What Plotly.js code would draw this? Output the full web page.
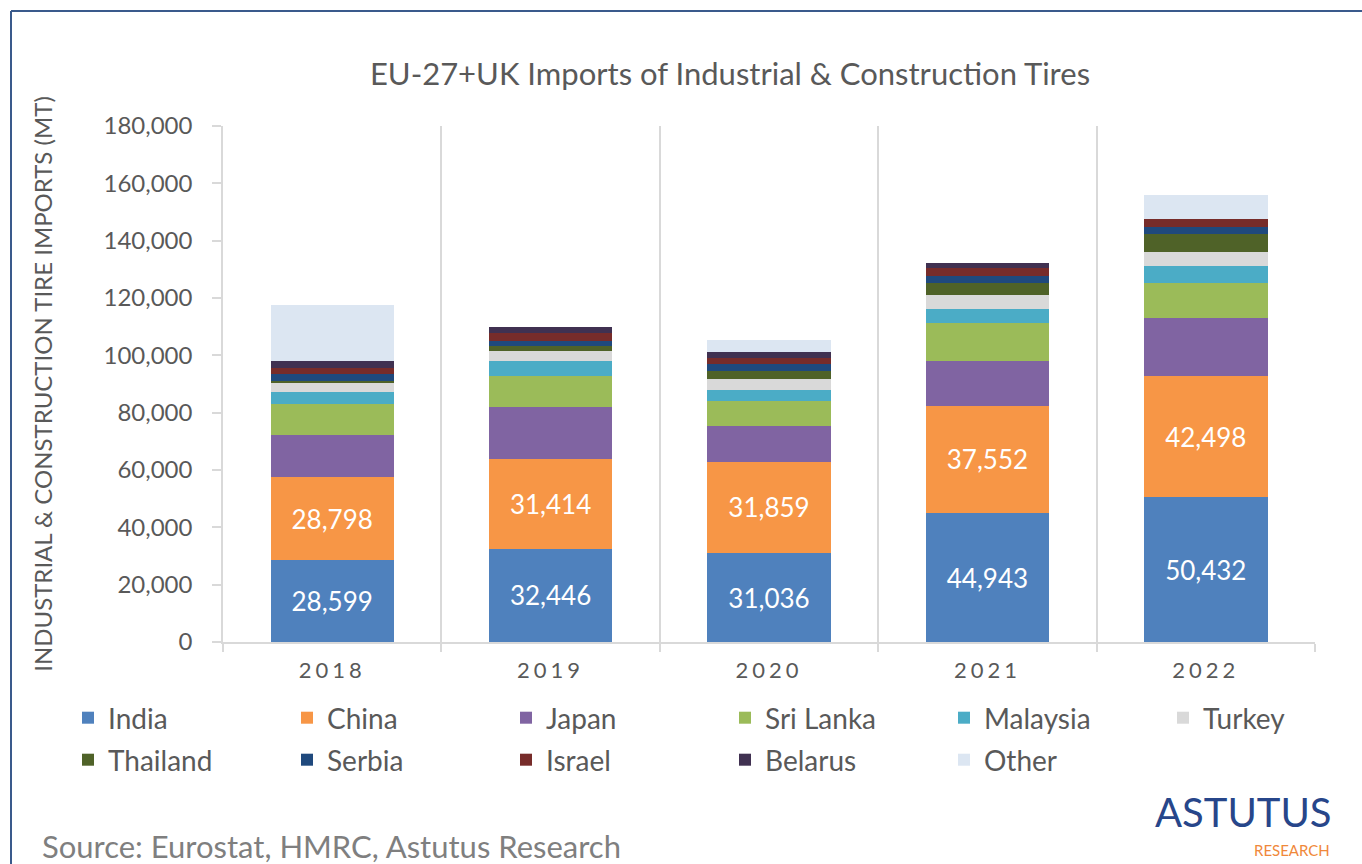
<!DOCTYPE html>
<html>
<head>
<meta charset="utf-8">
<script src="https://cdn.plot.ly/plotly-3.0.1.min.js"></script>
<style>
  html, body { margin: 0; padding: 0; background: #ffffff; }
  #chart { width: 1362px; height: 864px; }
  .xtick text { letter-spacing: 4px; }
</style>
</head>
<body>
<div id="chart"></div>
<script>
// ---- data (metric tonnes) ----
const years    = ['2018', '2019', '2020', '2021', '2022'];
const india    = [28599, 32446, 31036, 44943, 50432];
const china    = [28798, 31414, 31859, 37552, 42498];
const japan    = [14800, 18200, 12550, 15600, 19980];
const sriLanka = [11000, 10800, 8700, 13250, 12200];
const malaysia = [4000, 5100, 3700, 4650, 6150];
const turkey   = [3150, 3600, 3950, 5000, 4900];
const thailand = [700, 1650, 2800, 4300, 6050];
const serbia   = [2300, 1850, 2550, 2550, 2650];
const israel   = [2300, 2900, 2100, 2450, 2600];
const belarus  = [2300, 2000, 1850, 1750, 0];
const other    = [19450, 0, 4200, 0, 8450];

const seriesNames = ['India', 'China', 'Japan', 'Sri Lanka', 'Malaysia', 'Turkey',
                     'Thailand', 'Serbia', 'Israel', 'Belarus', 'Other'];
const seriesValues = [india, china, japan, sriLanka, malaysia, turkey,
                      thailand, serbia, israel, belarus, other];
const seriesColors = ['#4F81BD', '#F79646', '#8064A2', '#9BBB59', '#4BACC6', '#D9D9D9',
                      '#4F6228', '#1F497D', '#772C2A', '#403151', '#DCE6F2'];
// legend placement: first row (5 entries), lone 6th entry of row one, second row
const legendOf = ['legend', 'legend', 'legend', 'legend', 'legend', 'legend3',
                  'legend2', 'legend2', 'legend2', 'legend2', 'legend2'];
const labelled = ['India', 'China'];

const FONT = 'Lato, Calibri, Carlito, sans-serif';
const GREY = '#595959';

// plot-area pixel geometry used for paper-coordinate conversions
const L = 223, R = 47, T = 126, B = 222, W = 1362, H = 864;
const pw = W - L - R, ph = H - T - B;
const px = x => (x - L) / pw;
const py = y => (H - B - y) / ph;

const traces = seriesNames.map((name, i) => {
  const t = {
    type: 'bar',
    name: name,
    x: years,
    y: seriesValues[i],
    marker: { color: seriesColors[i], line: { width: 0 } },
    legend: legendOf[i],
    hovertemplate: name + ' %{x}: %{y:,}<extra></extra>'
  };
  if (labelled.includes(name)) {
    t.texttemplate = '%{y:,}';
    t.textposition = 'inside';
    t.insidetextanchor = 'middle';
    t.insidetextfont = { family: FONT, size: 26, color: '#ffffff' };
    t.constraintext = 'none';
  } else {
    t.textposition = 'none';
  }
  return t;
});

const legendCommon = {
  orientation: 'h',
  xref: 'paper', yref: 'paper',
  xanchor: 'left', yanchor: 'middle',
  x: px(68),
  entrywidth: 174, entrywidthmode: 'pixels',
  font: { family: FONT, size: 28, color: GREY },
  bgcolor: 'rgba(0,0,0,0)',
  traceorder: 'normal'
};

const layout = {
  width: W, height: H,
  paper_bgcolor: '#ffffff',
  plot_bgcolor: '#ffffff',
  margin: { l: L, r: R, t: T, b: B, pad: 0 },
  barmode: 'stack',
  bargap: 0.435,
  showlegend: true,
  font: { family: FONT, color: GREY },
  title: {
    text: 'EU-27+UK Imports of Industrial & Construction Tires',
    font: { family: FONT, size: 31, color: GREY },
    xref: 'container', yref: 'container',
    x: 730 / W, xanchor: 'center',
    y: 1 - 74 / H, yanchor: 'middle'
  },
  xaxis: {
    type: 'category',
    tickson: 'boundaries',
    showgrid: true, gridcolor: '#D9D9D9', gridwidth: 1.5,
    showline: true, linecolor: '#D9D9D9', linewidth: 1.5,
    ticks: 'outside', ticklen: 8, tickcolor: '#D9D9D9', tickwidth: 1.5,
    tickfont: { family: FONT, size: 22, color: GREY },
    ticklabelstandoff: 8,
    fixedrange: true
  },
  yaxis: {
    range: [0, 180000],
    dtick: 20000,
    tickformat: ',d',
    showgrid: false,
    zeroline: false,
    showline: true, linecolor: '#D9D9D9', linewidth: 1.5,
    ticks: 'outside', ticklen: 9, tickcolor: '#D9D9D9', tickwidth: 1.5,
    tickfont: { family: FONT, size: 24, color: GREY },
    ticklabelstandoff: 15,
    title: {
      text: 'INDUSTRIAL & CONSTRUCTION TIRE IMPORTS (MT)',
      font: { family: FONT, size: 24, color: GREY },
      standoff: 44
    },
    fixedrange: true
  },
  legend: Object.assign({}, legendCommon, { y: py(718) }),
  legend3: Object.assign({}, legendCommon, { y: py(718), x: px(68 + 5 * 219), entrywidth: 0 }),
  legend2: Object.assign({}, legendCommon, { y: py(760) }),
  shapes: [
    { type: 'line', xref: 'paper', yref: 'paper', x0: px(11), x1: px(1362), y0: py(11), y1: py(11),
      line: { color: '#3A5A8C', width: 2 } },
    { type: 'line', xref: 'paper', yref: 'paper', x0: px(11), x1: px(11), y0: py(11), y1: py(864),
      line: { color: '#3A5A8C', width: 2 } }
  ],
  annotations: [
    { text: 'Source: Eurostat, HMRC, Astutus Research', xref: 'paper', yref: 'paper',
      x: px(40), y: py(846), xanchor: 'left', yanchor: 'middle', showarrow: false,
      font: { family: FONT, size: 31, color: '#7F7F7F' } },
    { text: 'ASTUTUS', xref: 'paper', yref: 'paper',
      x: px(1334), y: py(812), xanchor: 'right', yanchor: 'middle', showarrow: false,
      font: { family: '"Liberation Sans Narrow", Lato, sans-serif', size: 40, color: '#27468A' } },
    { text: 'RESEARCH', xref: 'paper', yref: 'paper',
      x: px(1332), y: py(850), xanchor: 'right', yanchor: 'middle', showarrow: false,
      font: { family: 'Lato, sans-serif', size: 15, color: '#F0883A' } }
  ]
};

Plotly.newPlot('chart', traces, layout, { displayModeBar: false, responsive: false });
</script>
</body>
</html>
